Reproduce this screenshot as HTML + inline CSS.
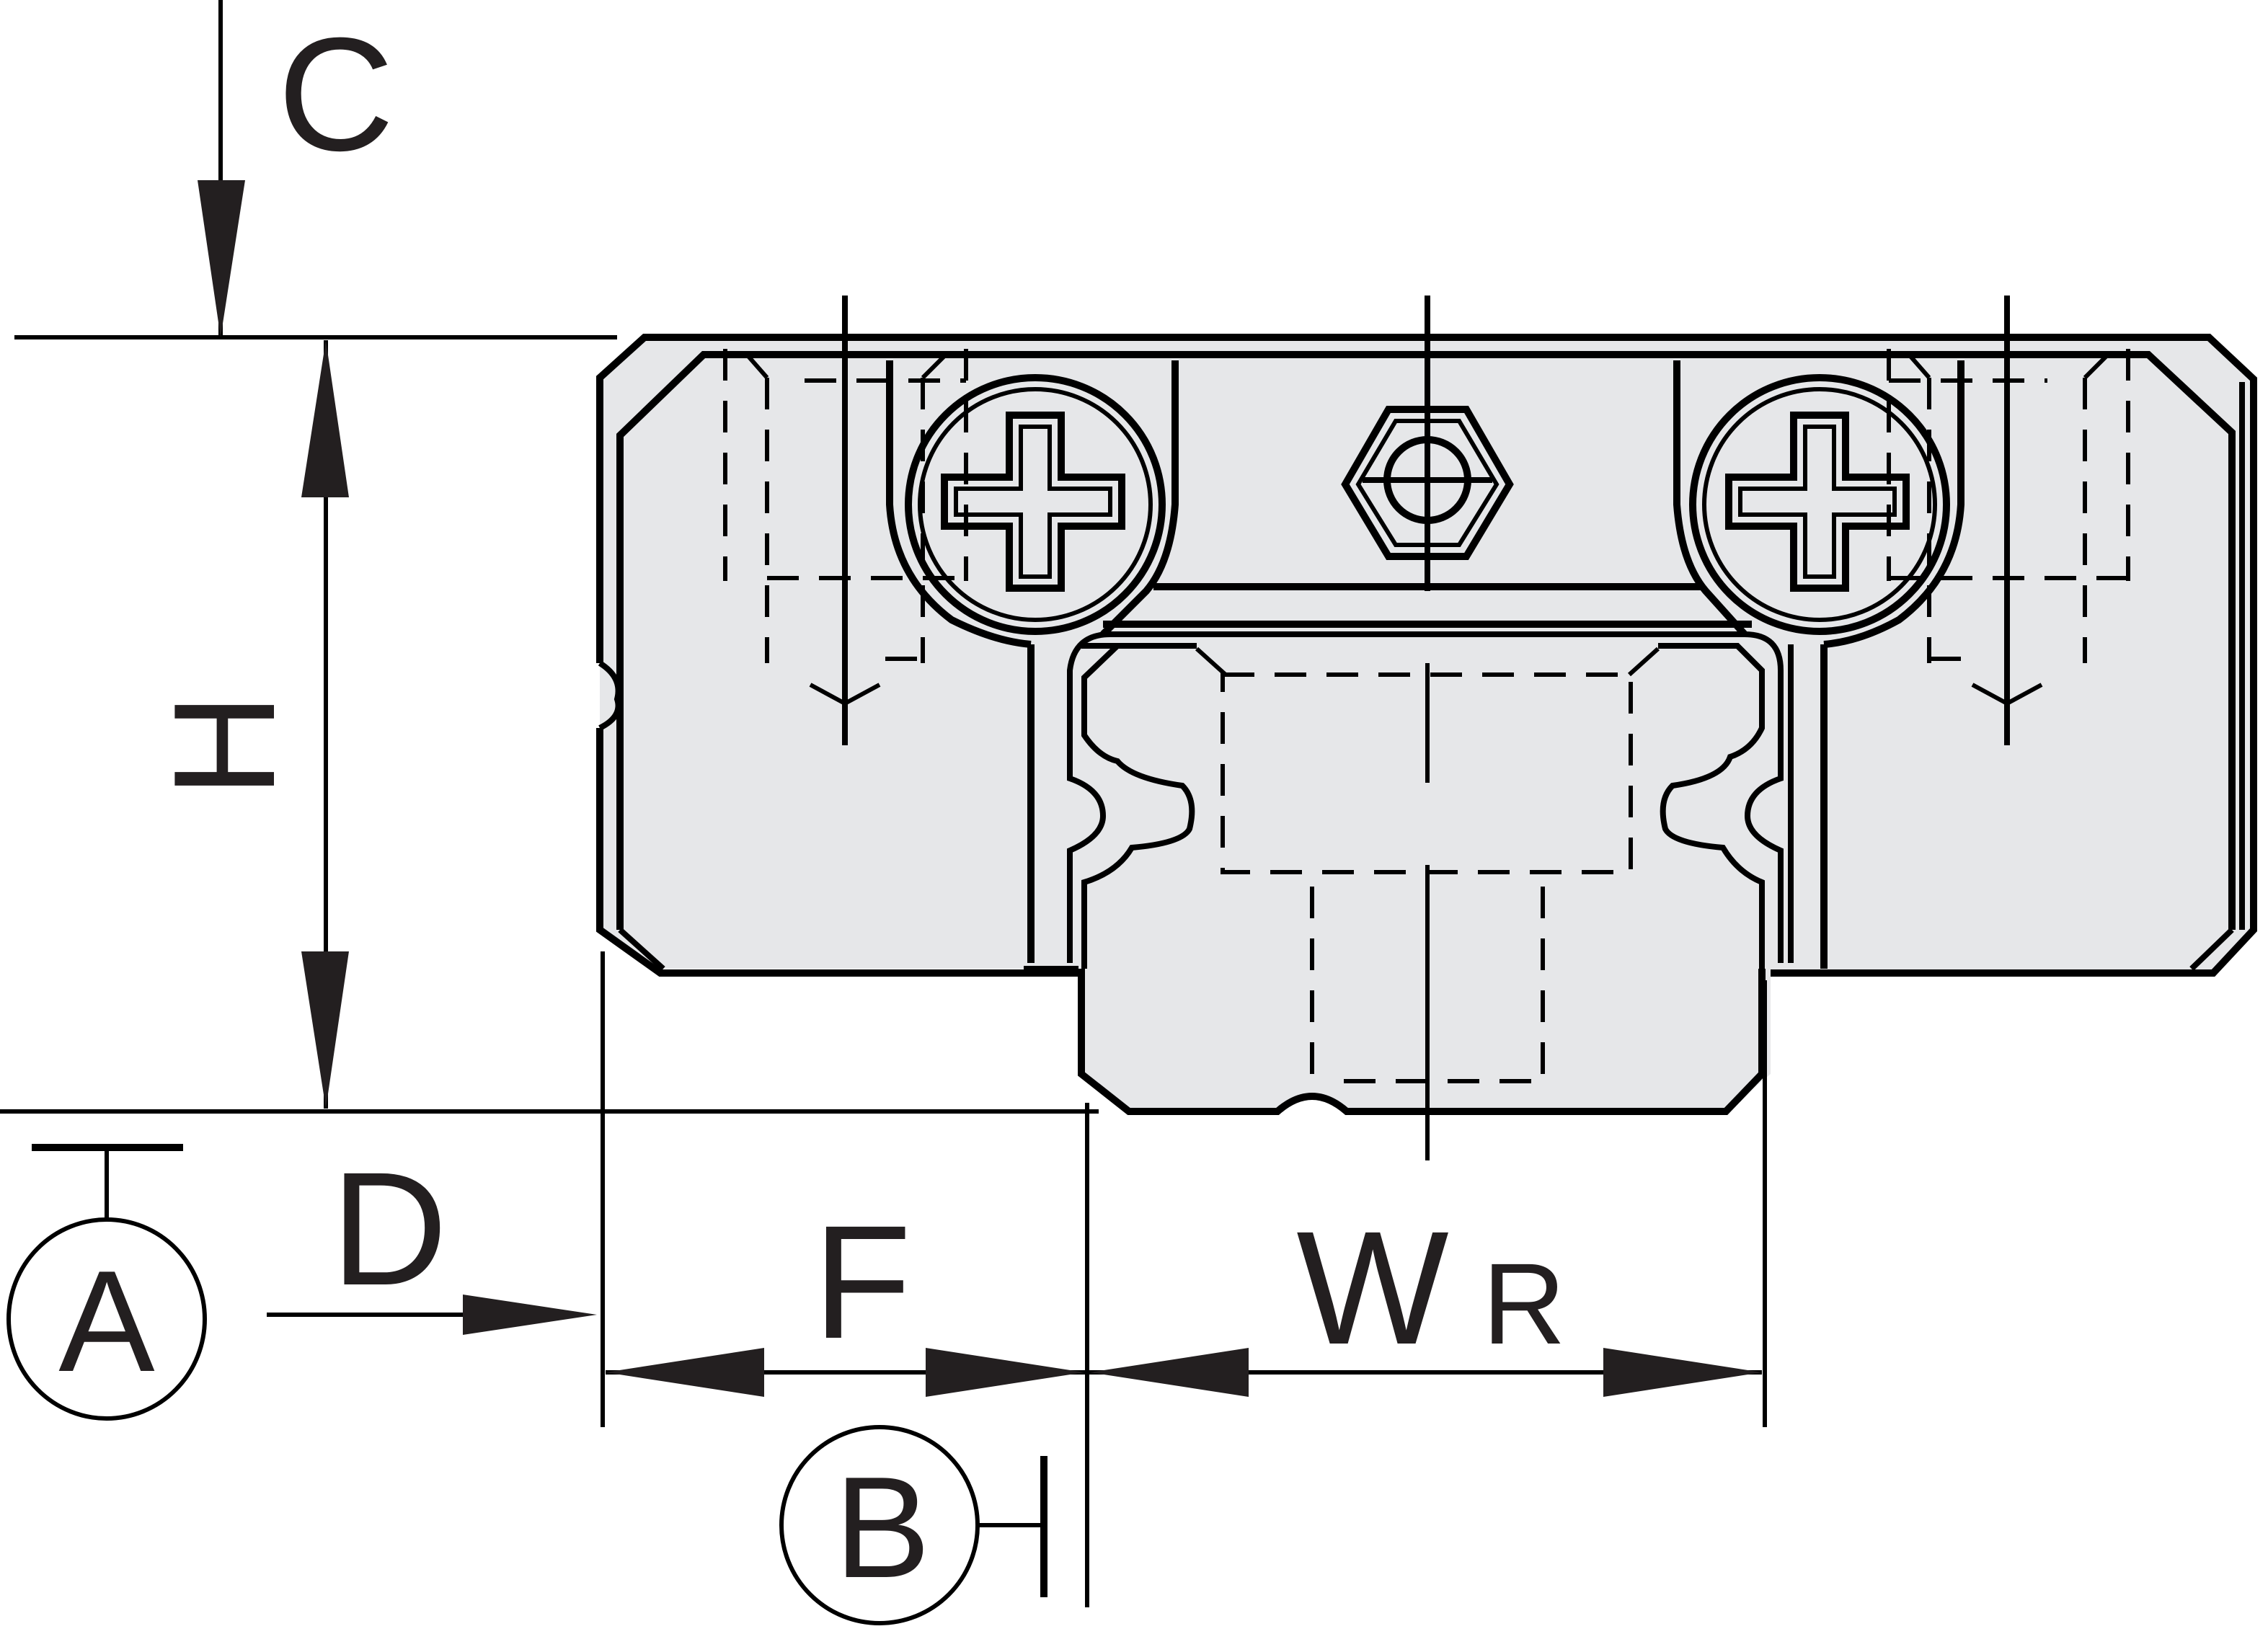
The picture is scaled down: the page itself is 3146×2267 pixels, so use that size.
<!DOCTYPE html>
<html><head><meta charset="utf-8"><style>
html,body{margin:0;padding:0;background:#fff;}
svg{display:block;}
text{font-family:"Liberation Sans",Arial,sans-serif;fill:#231f20;}
</style></head><body>
<svg width="3146" height="2267" viewBox="0 0 1573 1133.5" xmlns="http://www.w3.org/2000/svg">
<g fill="none" stroke="#000" stroke-linejoin="miter">
<!-- body fill -->
<path d="M447,234 L1532,234 L1563,263 L1563,645 L1535,675 L1228,675 L1228,745 L1197,771 L934,771 Q910,750 886,771 L783,771 L750,745 L750,672 L458,672 L416,645 L416,262 Z" fill="#e6e7e9" stroke="none"/>
<!-- outer outline -->
<path d="M416,460 L416,262 L447,234 L1532,234 L1563,263 L1563,645 L1535,675 L1228,675" stroke-width="5"/>
<path d="M416,505 L416,645 L458,675 L750,675" stroke-width="5"/>
<path d="M416,460 Q432,470 428,485 Q432,497 416,505" stroke-width="4"/>
<!-- inner outline -->
<path d="M430,645 L430,302 L488,246 L1490,246 L1548,300 L1548,645" stroke-width="5"/>
<line x1="1555" y1="265" x2="1555" y2="645" stroke-width="4"/>
<path d="M430,645 L460,672" stroke-width="4"/>
<path d="M1548,645 L1520,672" stroke-width="4"/>
<!-- rail -->
<path d="M750,672 L750,745 L783,771 L886,771 Q910,750 934,771 L1197,771 L1222,745 L1222,672" stroke-width="5"/>
<path d="M750,448 L775,448 L830,448 M1150,448 L1205,448 L1222,465 L1222,505 Q1215,520 1200,525 Q1195,540 1160,545 Q1150,555 1155,575 Q1160,585 1195,588 Q1205,605 1222,612 L1222,672" stroke-width="4"/>
<path d="M775,448 L752,470 L752,510 Q762,525 775,528 Q785,540 820,545 Q830,555 825,575 Q820,585 785,588 Q775,605 752,612 L752,672" stroke-width="4"/>
<path d="M742,668 L742,590 Q765,580 765,566 Q765,548 742,540 L742,465 Q745,440 770,440 L1210,440 Q1235,440 1235,465 L1235,540 Q1212,548 1212,566 Q1212,580 1235,590 L1235,668" stroke-width="4"/>
<line x1="715" y1="447" x2="715" y2="668" stroke-width="5"/>
<line x1="1242" y1="447" x2="1242" y2="668" stroke-width="4"/>
<line x1="1265" y1="447" x2="1265" y2="672" stroke-width="5"/>
<line x1="710" y1="672" x2="748" y2="672" stroke-width="4"/>
<line x1="765" y1="433" x2="1215" y2="433" stroke-width="5"/>
<line x1="800" y1="407" x2="1180" y2="407" stroke-width="5"/>
<line x1="830" y1="450" x2="850" y2="468" stroke-width="3"/>
<line x1="1150" y1="450" x2="1130" y2="468" stroke-width="3"/>
<!-- dividers -->
<path d="M617,250 L617,350 Q620,400 660,430 Q690,445 715,447" stroke-width="5"/>
<path d="M815,250 L815,350 Q812,390 795,410 L765,440" stroke-width="5"/>
<path d="M1163,250 L1163,350 Q1166,390 1183,410 L1210,440" stroke-width="5"/>
<path d="M1360,250 L1360,350 Q1357,400 1317,430 Q1290,445 1265,447" stroke-width="5"/>
<!-- screws -->
<circle cx="718" cy="350" r="88" stroke-width="5"/>
<circle cx="718" cy="350" r="80" stroke-width="3"/>
<circle cx="1262" cy="350" r="88" stroke-width="5"/>
<circle cx="1262" cy="350" r="80" stroke-width="3"/>
<path d="M700,288 L736,288 L736,331 L778,331 L778,365 L736,365 L736,408 L700,408 L700,365 L655,365 L655,331 L700,331 Z" stroke-width="5"/>
<path d="M708,296 L728,296 L728,339 L770,339 L770,357 L728,357 L728,400 L708,400 L708,357 L663,357 L663,339 L708,339 Z" stroke-width="3"/>
<path d="M1244,288 L1280,288 L1280,331 L1322,331 L1322,365 L1280,365 L1280,408 L1244,408 L1244,365 L1199,365 L1199,331 L1244,331 Z" stroke-width="5"/>
<path d="M1252,296 L1272,296 L1272,339 L1314,339 L1314,357 L1272,357 L1272,400 L1252,400 L1252,357 L1207,357 L1207,339 L1252,339 Z" stroke-width="3"/>
<!-- hex -->
<polygon points="963,284 1017,284 1047,336 1017,386 963,386 933,336" stroke-width="5"/>
<polygon points="968,292 1012,292 1038,336 1012,378 968,378 942,336" stroke-width="3"/>
<circle cx="990" cy="333" r="28" stroke-width="5"/>
<line x1="945" y1="333" x2="1035" y2="333" stroke-width="4"/>
<!-- center lines -->
<line x1="990" y1="205" x2="990" y2="410" stroke-width="4"/>
<line x1="990" y1="460" x2="990" y2="543" stroke-width="3"/>
<line x1="990" y1="600" x2="990" y2="805" stroke-width="3"/>
<line x1="586" y1="205" x2="586" y2="517" stroke-width="4"/>
<line x1="1392" y1="205" x2="1392" y2="517" stroke-width="4"/>
<!-- dashed hidden -->
<g stroke-width="3" stroke-dasharray="22,14">
<rect x="848" y="468" width="283" height="137"/>
<line x1="910" y1="615" x2="910" y2="752"/>
<line x1="1070" y1="615" x2="1070" y2="752"/>
<line x1="932" y1="750" x2="1070" y2="750"/>
<line x1="503" y1="242" x2="503" y2="403"/>
<line x1="532" y1="262" x2="532" y2="460"/>
<line x1="640" y1="262" x2="640" y2="460"/>
<line x1="670" y1="242" x2="670" y2="403"/>
<line x1="532" y1="401" x2="670" y2="401"/>
<line x1="558" y1="264" x2="670" y2="264"/>
<line x1="614" y1="457" x2="640" y2="457"/>
<line x1="1310" y1="242" x2="1310" y2="403"/>
<line x1="1338" y1="262" x2="1338" y2="460"/>
<line x1="1446" y1="262" x2="1446" y2="460"/>
<line x1="1476" y1="242" x2="1476" y2="403"/>
<line x1="1310" y1="401" x2="1476" y2="401"/>
<line x1="1310" y1="264" x2="1420" y2="264"/>
<line x1="1338" y1="457" x2="1364" y2="457"/>
</g>
<path d="M518,246 L532,262 M656,246 L640,262 M1324,246 L1338,262 M1462,246 L1446,262" stroke-width="3"/>
<path d="M562,475 L586,488 L610,475 M1368,475 L1392,488 L1416,475" stroke-width="3"/>
</g>
<!-- dimensions -->
<g stroke="#000" stroke-width="3" fill="none">
<line x1="10" y1="234" x2="428" y2="234"/>
<line x1="0" y1="771" x2="762" y2="771"/>
<line x1="153" y1="0" x2="153" y2="234"/>
<line x1="226" y1="236" x2="226" y2="769"/>
<line x1="418" y1="660" x2="418" y2="990"/>
<line x1="754" y1="765" x2="754" y2="1115"/>
<line x1="1224" y1="680" x2="1224" y2="990"/>
<line x1="185" y1="912" x2="400" y2="912"/>
<line x1="420" y1="952" x2="1222" y2="952"/>
<line x1="22" y1="796" x2="127" y2="796" stroke-width="5"/>
<line x1="74" y1="796" x2="74" y2="845"/>
<ellipse cx="74" cy="915" rx="68" ry="69"/>
<ellipse cx="610" cy="1058" rx="68" ry="68"/>
<line x1="678" y1="1058" x2="722" y2="1058"/>
<line x1="724" y1="1010" x2="724" y2="1108" stroke-width="5"/>
</g>
<g fill="#231f20">
<polygon points="137,125 170,125 153,234"/>
<polygon points="209,345 242,345 226,236"/>
<polygon points="209,660 242,660 226,769"/>
<polygon points="321,898 321,926 414,912"/>
<polygon points="420,952 530,935 530,969"/>
<polygon points="752,952 642,935 642,969"/>
<polygon points="756,952 866,935 866,969"/>
<polygon points="1222,952 1112,935 1112,969"/>
</g>
<text x="233" y="104" font-size="112" text-anchor="middle">C</text>
<text transform="translate(154,517) rotate(-90)" y="36" font-size="100" text-anchor="middle">H</text>
<text x="270" y="891" font-size="112" text-anchor="middle">D</text>
<text x="598" y="928" font-size="112" text-anchor="middle">F</text>
<text x="952" y="932" font-size="112" text-anchor="middle">W</text>
<text x="1057" y="932" font-size="80" text-anchor="middle">R</text>
<text x="74" y="951" font-size="100" text-anchor="middle">A</text>
<text x="612" y="1094" font-size="100" text-anchor="middle">B</text>
</svg>
</body></html>
